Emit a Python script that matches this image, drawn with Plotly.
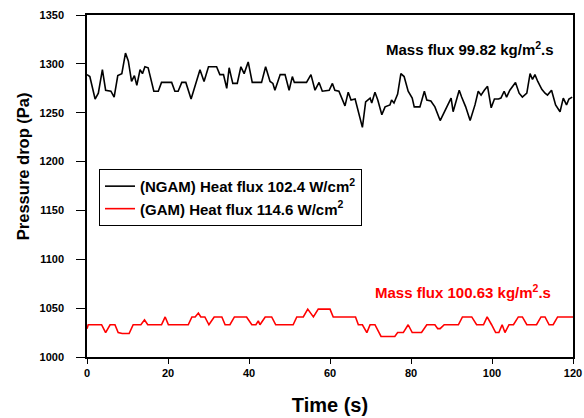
import plotly.graph_objects as go

# Black series: NGAM, heat flux 102.4 W/cm2
t_ngam = [0, 0.7, 2, 2.8, 3.8, 4.6, 5.9, 6.7, 7.6, 8.6, 9.5, 10.2, 11, 11.7, 12.3, 13.1, 13.7,
          14.3, 15.1, 16.5, 17.6, 18.4, 20.9, 21.7, 22.5, 23.4, 24.4, 25.7, 27.9, 28.9, 30.0,
          32, 32.8, 33.7, 34.5, 35.1, 35.6, 36, 37.1, 38, 38.8, 39.8, 40.8, 43.1, 44.1, 45.2,
          45.9, 46.4, 47.7, 48.9, 49.9, 50.7, 51.2, 54.2, 55.3, 56.3, 57.3, 58.1, 59.8, 60.6,
          61.2, 62.2, 63.7, 64.5, 65.2, 66.2, 68, 68.8, 69.9, 70.3, 71.1, 71.8, 72.8, 73.6,
          74.8, 75.2, 75.8, 76.7, 77.5, 78.3, 79.3, 80.3, 80.8, 82.2, 83.3, 83.9, 84.9, 85.9,
          87.2, 88.3, 89.9, 90.4, 91.9, 92.5, 93.5, 94.6, 95.8, 96.6, 97.3, 98.1, 98.9, 99.8,
          100.6, 101.6, 102.2, 103, 103.6, 104.4, 105.8, 106.7, 107.5, 108.6, 109.4, 110,
          110.6, 111.3, 112.3, 113.1, 113.7, 114.7, 115.7, 116.8, 117.6, 118.4, 119, 119.8]
p_ngam = [1289, 1287, 1264, 1270, 1294, 1273, 1272, 1266, 1288, 1290, 1311, 1303, 1282, 1288, 1278, 1294, 1290,
          1297, 1296, 1272, 1272, 1281, 1281, 1272, 1272, 1281, 1281, 1264, 1294, 1282, 1297,
          1297, 1289, 1289, 1275, 1296, 1287, 1280, 1280, 1297, 1290, 1302, 1281, 1281, 1297, 1282,
          1280, 1273, 1289, 1289, 1273, 1287, 1281, 1281, 1289, 1273, 1281, 1272, 1273, 1280,
          1273, 1272, 1257, 1271, 1263, 1264, 1235, 1261, 1265, 1260, 1271, 1263, 1248, 1256,
          1258, 1263, 1260, 1269, 1290, 1287, 1272, 1265, 1256, 1256, 1272, 1263, 1262, 1256,
          1242, 1252, 1265, 1251, 1273, 1266, 1256, 1242, 1258, 1272, 1268, 1273, 1277, 1255,
          1264, 1264, 1265, 1272, 1266, 1273, 1281, 1270, 1266, 1270, 1290, 1284,
          1289, 1282, 1274, 1270, 1268, 1273, 1258, 1251, 1265, 1258, 1264, 1266]

# Red series: GAM, heat flux 114.6 W/cm2
t_gam = [0, 0.3, 3.6, 4.6, 5.7, 6.9, 7.7, 8.7, 10.4, 11.4, 13.3, 14.2, 15, 18.4, 19.3, 20.1, 25,
         25.9, 26.7, 27.5, 28.1, 29.1, 30.1, 31.4, 33.3, 34.1, 35.3, 36.4, 39.4, 40.7, 41.7,
         42.3, 42.7, 44, 45.6, 46.6, 50.9, 51.8, 53.4, 54.5, 55.9, 57.1, 60, 60.8, 66.3, 67,
         68, 69.1, 69.9, 71.1, 72.6, 76, 76.7, 78.1, 79.3, 80.3, 82.6, 83.9, 85.9, 86.6, 87.2,
         88.2, 91.7, 92.7, 95, 96.2, 97.9, 98.8, 99.9, 100.9, 101.7, 102.5, 103.2, 104.2,
         105.3, 106.5, 107.5, 108.6, 111, 112.1, 113.1, 114.1, 115.1, 116.2, 120]
p_gam = [1029, 1033, 1033, 1025, 1033, 1033, 1025, 1024, 1024, 1033, 1033, 1038, 1033, 1033, 1041, 1033, 1033,
         1041, 1041, 1045, 1041, 1041, 1033, 1041, 1041, 1033, 1033, 1041, 1041, 1033, 1033,
         1037, 1033, 1041, 1041, 1033, 1033, 1041, 1041, 1049, 1041, 1049, 1049, 1041, 1041, 1033,
         1033, 1025, 1033, 1033, 1021, 1021, 1025, 1025, 1033, 1025, 1025, 1033, 1033, 1029, 1029,
         1033, 1033, 1041, 1041, 1033, 1033, 1041, 1033, 1025, 1025, 1033, 1025, 1033,
         1033, 1041, 1041, 1033, 1033, 1041, 1041, 1033, 1033, 1041, 1041]

x_ticks = [0, 20, 40, 60, 80, 100, 120]
y_ticks = [1000, 1050, 1100, 1150, 1200, 1250, 1300, 1350]

FONT = "Liberation Sans, Arial, sans-serif"

fig = go.Figure()
fig.add_trace(go.Scatter(x=t_ngam, y=p_ngam, mode="lines",
                         line=dict(color="black", width=1.6),
                         name="(NGAM) Heat flux 102.4 W/cm<sup>2</sup>"))
fig.add_trace(go.Scatter(x=t_gam, y=p_gam, mode="lines",
                         line=dict(color="#ff0000", width=1.6),
                         name="(GAM) Heat flux 114.6 W/cm<sup>2</sup>"))

fig.add_annotation(x=0.788, y=0.9035, xref="paper", yref="paper",
                   xanchor="center", yanchor="middle",
                   text="Mass flux 99.82 kg/m<sup>2</sup>.s", showarrow=False,
                   font=dict(family=FONT, size=15, color="black", weight="bold"))
fig.add_annotation(x=0.773, y=0.1915, xref="paper", yref="paper",
                   xanchor="center", yanchor="middle",
                   text="Mass flux 100.63 kg/m<sup>2</sup>.s", showarrow=False,
                   font=dict(family=FONT, size=15, color="#ff0000", weight="bold"))
# y-axis title (placed slightly above the plot centre, as in the reference)
fig.add_annotation(x=-0.1317, y=0.558, xref="paper", yref="paper",
                   xanchor="center", yanchor="middle", textangle=-90,
                   text="Pressure drop (Pa)", showarrow=False,
                   font=dict(family=FONT, size=16.5, color="black", weight="bold"))

fig.update_layout(
    width=584, height=418,
    margin=dict(l=87, r=11, t=15, b=61, autoexpand=False),
    paper_bgcolor="white", plot_bgcolor="white",
    font=dict(family=FONT, color="black", weight="bold"),
    showlegend=True,
    legend=dict(x=0.0247, y=0.55, xanchor="left", yanchor="top",
                bordercolor="black", borderwidth=1, bgcolor="white",
                font=dict(family=FONT, size=15, color="black", weight="bold")),
)
fig.update_xaxes(range=[0, 120], tickvals=x_ticks, ticks="outside", ticklen=5,
                 tickwidth=1, tickcolor="black", showline=True, linecolor="black",
                 linewidth=1.5, mirror=True, showgrid=False, zeroline=False,
                 automargin=False,
                 tickfont=dict(family=FONT, size=11, weight="bold"),
                 title=dict(text="Time (s)", font=dict(family=FONT, size=20, weight="bold"),
                            standoff=20))
fig.update_yaxes(range=[1000, 1350], tickvals=y_ticks, ticks="outside", ticklen=9,
                 tickwidth=1, tickcolor="black", showline=True, linecolor="black",
                 linewidth=1.5, mirror=True, showgrid=False, zeroline=False,
                 automargin=False, ticklabelstandoff=10,
                 tickfont=dict(family=FONT, size=11, weight="bold"))

fig.write_html("out.html")
